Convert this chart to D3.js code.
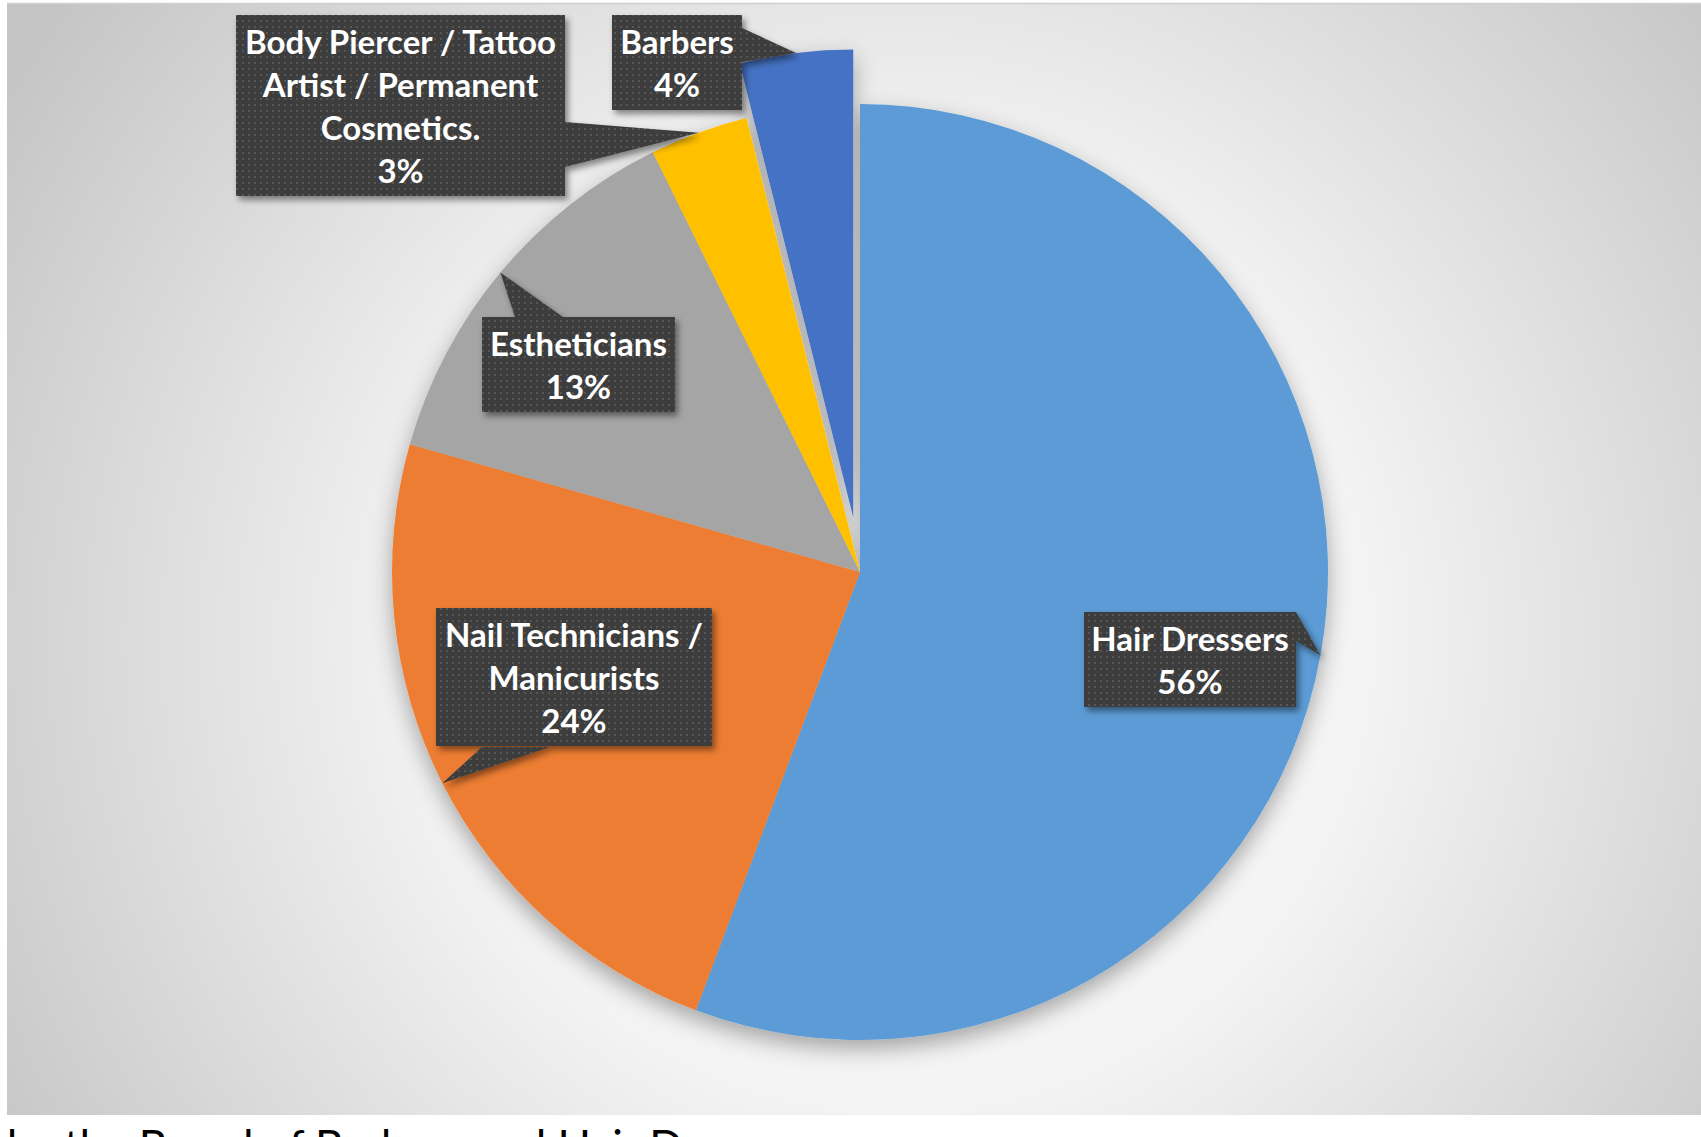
<!DOCTYPE html>
<html>
<head>
<meta charset="utf-8">
<script src="https://cdn.jsdelivr.net/npm/d3@7"></script>
<style>
  body { margin: 0; background: #fff; overflow: hidden; }
  svg { display: block; }
</style>
</head>
<body>
<div id="chart"></div>
<script>
// data (slice angles; labels round them)
const categories = ["Hair Dressers", "Nail Technicians / Manicurists", "Estheticians",
                    "Body Piercer / Tattoo Artist / Permanent Cosmetics.", "Barbers"];
const shares = [55.7, 23.7, 13.3, 3.4, 3.9];
const labelLines = [
  ["Hair Dressers"],
  ["Nail Technicians /", "Manicurists"],
  ["Estheticians"],
  ["Body Piercer / Tattoo", "Artist / Permanent", "Cosmetics."],
  ["Barbers"]
];
const sliceColors = ["#5b9bd5", "#ed7d31", "#a5a5a5", "#ffc000", "#4472c4"];
const footLead = "Licensed";
const footText = "by the Board of Barbers and Hair Dressers";

// layout
const W = 1701, H = 1137;
const cx = 860, cy = 572, radius = 468;
const explode = { index: 4, by: 55 };
const lineH = 43, fontSize = 33;
// callout boxes: x, y, width, and the two points where the pointer leaves the box
const callouts = [
  { x: 1084, y: 612, w: 212, base: [[1296, 612], [1296, 641]] },
  { x: 436,  y: 608, w: 276, base: [[550, 747], [482, 747]] },
  { x: 482,  y: 317, w: 193, base: [[563, 317], [515, 317]] },
  { x: 236,  y: 15,  w: 329, base: [[565, 122], [565, 167]] },
  { x: 612,  y: 15,  w: 130, base: [[742, 28], [742, 62]] }
];

const svg = d3.select("#chart").append("svg")
  .attr("width", W)
  .attr("height", H);

const defs = svg.append("defs");

const bg = defs.append("radialGradient")
  .attr("id", "bg")
  .attr("gradientUnits", "userSpaceOnUse")
  .attr("cx", 900).attr("cy", 640).attr("r", 1050);
bg.append("stop").attr("offset", 0).attr("stop-color", "#ffffff");
bg.append("stop").attr("offset", 0.45).attr("stop-color", "#f3f3f3");
bg.append("stop").attr("offset", 1).attr("stop-color", "#c5c5c5");

const dots = defs.append("pattern")
  .attr("id", "dots")
  .attr("patternUnits", "userSpaceOnUse")
  .attr("width", 6).attr("height", 6);
dots.append("rect").attr("width", 6).attr("height", 6).attr("fill", "#3d3d3d");
dots.append("rect").attr("x", 2).attr("y", 2).attr("width", 2).attr("height", 2).attr("fill", "#565656");

defs.append("filter")
  .attr("id", "pieShadow")
  .attr("x", "-15%").attr("y", "-15%").attr("width", "130%").attr("height", "135%")
  .append("feDropShadow")
  .attr("dx", 0).attr("dy", 9).attr("stdDeviation", 11)
  .attr("flood-color", "#000").attr("flood-opacity", 0.33);

defs.append("filter")
  .attr("id", "boxShadow")
  .attr("x", "-10%").attr("y", "-10%").attr("width", "130%").attr("height", "130%")
  .append("feDropShadow")
  .attr("dx", 3).attr("dy", 4).attr("stdDeviation", 3)
  .attr("flood-color", "#000").attr("flood-opacity", 0.45);

// chart area
svg.append("rect")
  .attr("x", 7).attr("y", 4)
  .attr("width", W - 7).attr("height", 1111)
  .attr("fill", "url(#bg)");
svg.append("line")
  .attr("x1", 7).attr("x2", W)
  .attr("y1", 3.5).attr("y2", 3.5)
  .attr("stroke", "#cfcfcf").attr("stroke-width", 1.5);

// pie
const pie = d3.pie().sort(null).value(d => d);
const arcs = pie(shares);
const total = d3.sum(shares);
const pct = d3.format(".0%");

const arc = d3.arc().innerRadius(0).outerRadius(radius);
const rim = d3.arc().innerRadius(radius).outerRadius(radius);

function offset(a, i) {
  if (i !== explode.index) return [0, 0];
  const mid = (a.startAngle + a.endAngle) / 2;
  return [Math.sin(mid) * explode.by, -Math.cos(mid) * explode.by];
}

const pieG = svg.append("g")
  .attr("transform", `translate(${cx},${cy})`)
  .attr("filter", "url(#pieShadow)");

pieG.selectAll("path")
  .data(arcs)
  .join("path")
  .attr("transform", (d, i) => `translate(${offset(d, i)})`)
  .attr("d", arc)
  .attr("fill", (d, i) => sliceColors[i]);

// callout labels
const labels = svg.append("g")
  .selectAll("g")
  .data(arcs)
  .join("g");

labels.each(function (d, i) {
  const g = d3.select(this);
  const c = callouts[i];
  const lines = labelLines[i].concat([pct(d.value / total)]);
  const h = lines.length * lineH + 9;
  const [ox, oy] = offset(d, i);
  const [tx, ty] = rim.centroid(d);
  const tip = [cx + tx + ox, cy + ty + oy];

  const shape = g.append("g").attr("filter", "url(#boxShadow)");
  shape.append("rect")
    .attr("x", c.x).attr("y", c.y)
    .attr("width", c.w).attr("height", h)
    .attr("fill", "url(#dots)");
  shape.append("path")
    .attr("d", d3.line()([c.base[0], tip, c.base[1]]) + "Z")
    .attr("fill", "url(#dots)");

  g.selectAll("text")
    .data(lines)
    .join("text")
    .attr("x", c.x + c.w / 2)
    .attr("y", (t, k) => c.y + 39 + k * lineH)
    .attr("text-anchor", "middle")
    .attr("fill", "#fff")
    .style("font-family", "Lato, 'Open Sans', sans-serif")
    .style("font-weight", "700")
    .style("font-size", fontSize + "px")
    .text(t => t);
});

// note under the chart, cut off by the picture edge
svg.append("text")
  .attr("x", 0).attr("y", 1162)
  .attr("text-anchor", "end")
  .style("font-family", "Lato, sans-serif")
  .style("font-size", "44px")
  .attr("fill", "#000")
  .text(footLead);
svg.append("text")
  .attr("x", 7).attr("y", 1162)
  .style("font-family", "Lato, sans-serif")
  .style("font-size", "44px")
  .attr("fill", "#000")
  .text(footText);
</script>
</body>
</html>
